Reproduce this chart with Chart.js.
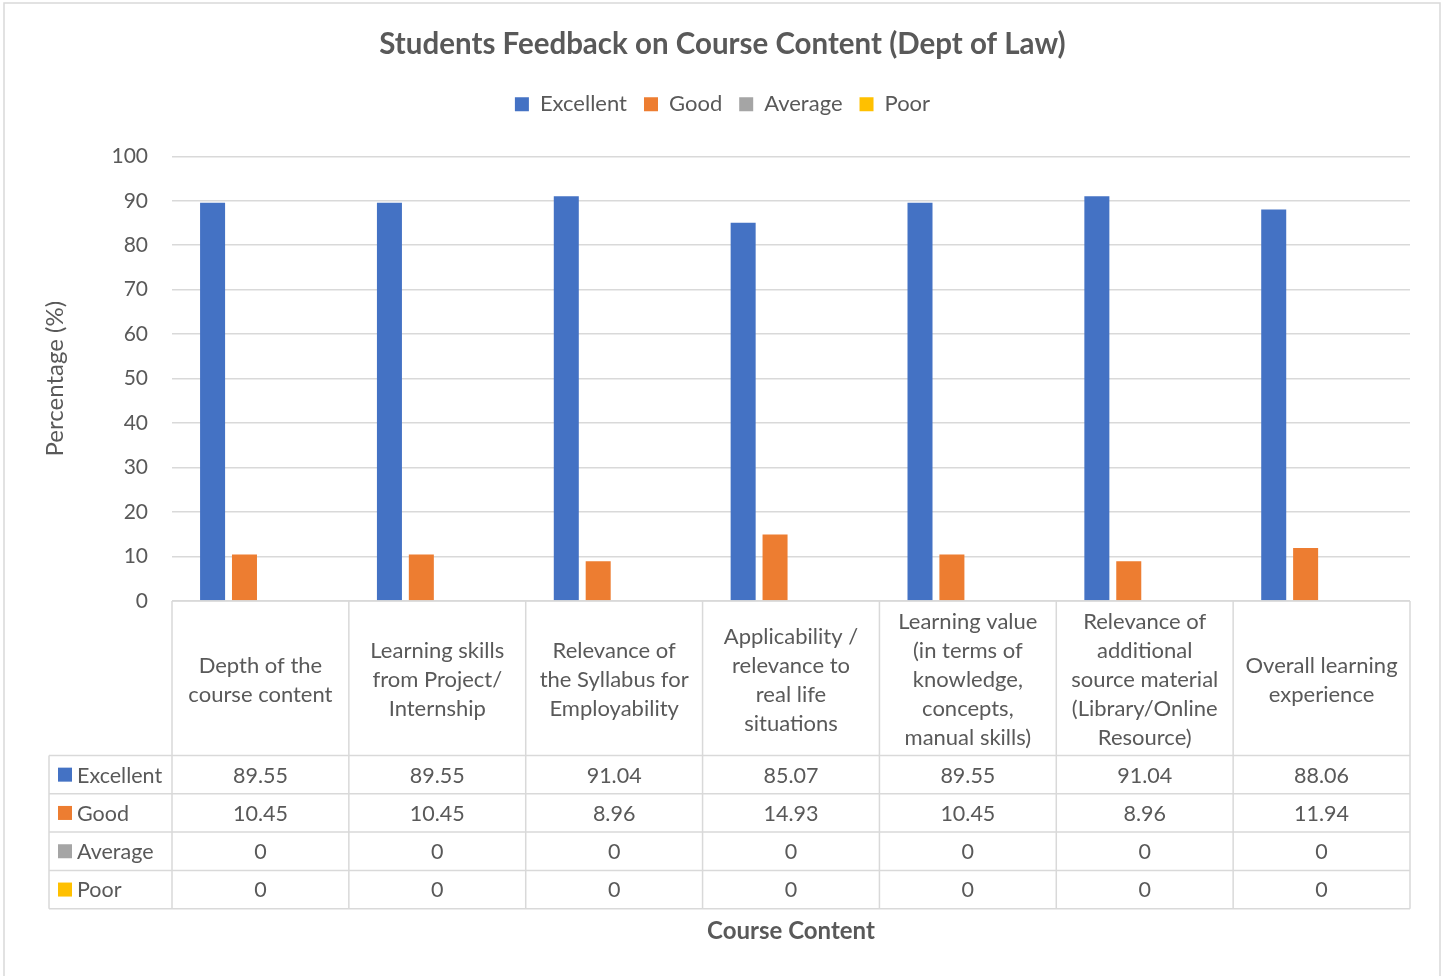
<!DOCTYPE html>
<html><head><meta charset="utf-8">
<script src="https://cdn.jsdelivr.net/npm/chart.js@4.4.0/dist/chart.umd.min.js"></script>
<style>html,body{margin:0;padding:0;background:#fff;}canvas{display:block;}</style>
</head><body>
<canvas id="c" width="1445" height="976"></canvas>
<script>
const chartTitle = 'Students Feedback on Course Content (Dept of Law)';
const yAxisTitle = 'Percentage (%)';
const xAxisTitle = 'Course Content';
const categories = [
  ['Depth of the', 'course content'],
  ['Learning skills', 'from Project/', 'Internship'],
  ['Relevance of', 'the Syllabus for', 'Employability'],
  ['Applicability /', 'relevance to', 'real life', 'situations'],
  ['Learning value', '(in terms of', 'knowledge,', 'concepts,', 'manual skills)'],
  ['Relevance of', 'additional', 'source material', '(Library/Online', 'Resource)'],
  ['Overall learning', 'experience']
];
const seriesNames = ['Excellent', 'Good', 'Average', 'Poor'];
const excellent = [89.55, 89.55, 91.04, 85.07, 89.55, 91.04, 88.06];
const good = [10.45, 10.45, 8.96, 14.93, 10.45, 8.96, 11.94];
const average = [0, 0, 0, 0, 0, 0, 0];
const poor = [0, 0, 0, 0, 0, 0, 0];
const yMin = 0, yMax = 100, yStep = 10;
const seriesColors = ['#4472C4', '#ED7D31', '#A5A5A5', '#FFC000'];

const FONT = 'Lato';
const TEXT = '#595959';
const LINE = '#D9D9D9';

const tablePlugin = {
  id: 'dataTable',
  beforeLayout(chart) {
    const lg = chart.legend;
    if (lg && !lg._patched) {
      const f = lg.fit;
      lg.fit = function () { f.call(this); this.height += 31; };
      lg._patched = true;
    }
  },
  beforeDraw(chart) {
    const ctx = chart.ctx;
    ctx.save();
    ctx.fillStyle = '#fff';
    ctx.fillRect(0, 0, chart.width, chart.height);
    ctx.strokeStyle = LINE; ctx.lineWidth = 1.5;
    ctx.strokeRect(4, 3, 1436, 1000);
    ctx.restore();
  },
  afterDraw(chart) {
    const { ctx, chartArea } = chart;
    const xs = chart.scales.x;
    const n = chart.data.labels.length;
    const top = chartArea.bottom;
    const headerBottom = top + 154.5;
    const rowH = 38.3;
    const rows = chart.data.datasets.length;
    const tableBottom = headerBottom + rows * rowH;
    const keyLeft = 49;
    const bounds = [chartArea.left];
    for (let i = 1; i < n; i++) bounds.push((xs.getPixelForValue(i - 1) + xs.getPixelForValue(i)) / 2);
    bounds.push(chartArea.right);
    ctx.save();
    ctx.strokeStyle = LINE; ctx.lineWidth = 1.5;
    ctx.beginPath();
    ctx.moveTo(chartArea.left, top); ctx.lineTo(chartArea.right, top);
    for (let r = 0; r <= rows; r++) {
      const y = headerBottom + r * rowH;
      ctx.moveTo(keyLeft, y); ctx.lineTo(chartArea.right, y);
    }
    bounds.forEach(x => { ctx.moveTo(x, top); ctx.lineTo(x, tableBottom); });
    ctx.moveTo(keyLeft, headerBottom); ctx.lineTo(keyLeft, tableBottom);
    ctx.stroke();
    ctx.font = '21.5px ' + FONT;
    ctx.textBaseline = 'middle';
    chart.data.datasets.forEach((ds, r) => {
      const yc = headerBottom + r * rowH + rowH / 2;
      ctx.fillStyle = ds.backgroundColor;
      ctx.fillRect(58, yc - 7, 14, 14);
      ctx.fillStyle = TEXT;
      ctx.textAlign = 'left';
      ctx.fillText(ds.label, 77, yc + 1);
      ctx.textAlign = 'center';
      ds.data.forEach((v, i) => ctx.fillText(String(v), xs.getPixelForValue(i), yc + 1));
    });
    ctx.restore();
  }
};

const seriesData = [excellent, good, average, poor];
new Chart(document.getElementById('c'), {
  type: 'bar',
  data: {
    labels: categories,
    datasets: seriesNames.map((name, k) => ({
      label: name,
      data: seriesData[k],
      backgroundColor: seriesColors[k],
      borderWidth: 0,
      barPercentage: 0.784,
      categoryPercentage: 0.7215
    }))
  },
  options: {
    responsive: false,
    animation: false,
    devicePixelRatio: 1,
    layout: { padding: { left: 35, right: 35, top: 0, bottom: 0 } },
    plugins: {
      title: {
        display: true, text: chartTitle, color: TEXT,
        font: { family: FONT, size: 29.5, weight: 'bold' },
        padding: { top: 26.3, bottom: 14.6 }
      },
      legend: {
        display: true, position: 'top',
        labels: { color: TEXT, font: { family: FONT, size: 22 }, boxWidth: 14, boxHeight: 14, padding: 17 }
      },
      tooltip: { enabled: false }
    },
    scales: {
      x: {
        grid: { display: false },
        border: { display: false },
        ticks: {
          autoSkip: false, maxRotation: 0, minRotation: 0, color: TEXT,
          font: { family: FONT, size: 22, lineHeight: 29 / 22 },
          crossAlign: 'center', padding: 13
        },
        title: {
          display: true, text: xAxisTitle, color: TEXT,
          font: { family: FONT, size: 24, weight: 'bold' },
          padding: { top: 0, bottom: 30.6 }
        },
        afterFit(s) { s.height = 375; }
      },
      y: {
        min: yMin, max: yMax,
        ticks: { stepSize: yStep, color: TEXT, font: { family: FONT, size: 21 }, padding: 24 },
        grid: { color: LINE, lineWidth: 1.5, drawTicks: false },
        border: { display: false },
        title: {
          display: true, text: yAxisTitle, color: TEXT,
          font: { family: FONT, size: 24 },
          padding: { top: 5.6, bottom: 0 }
        },
        afterFit(s) { s.width = 137; }
      }
    }
  },
  plugins: [tablePlugin]
});
</script>
</body></html>
